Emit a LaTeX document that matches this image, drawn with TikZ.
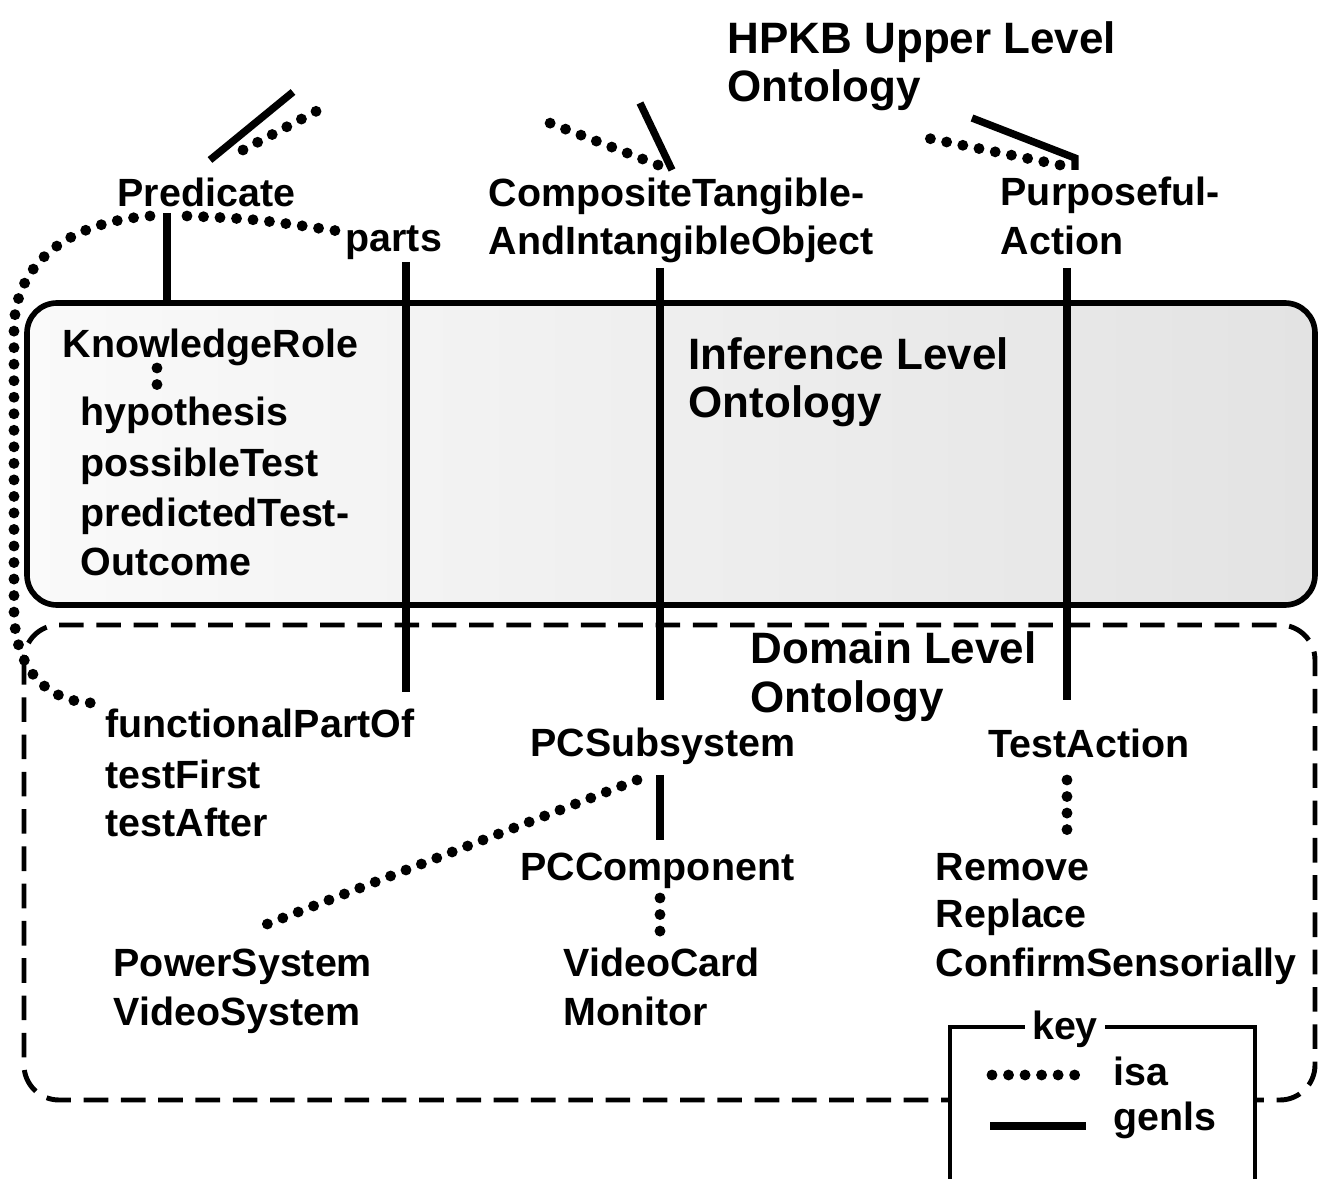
\documentclass[tikz,border=0pt]{standalone}
\usepackage{fontspec}
\setmainfont{Liberation Sans}
\begin{document}
\begin{tikzpicture}[x=0.01cm,y=-0.01cm,
  lbl/.style={font=\bfseries\fontsize{11.2}{14}\selectfont, inner sep=0pt, anchor=base west},
  ttl/.style={font=\bfseries\fontsize{12.5}{14}\selectfont, inner sep=0pt, anchor=base west},
  genls/.style={line width=2.1pt},
  isa/.style={line width=3.1pt, line cap=round, dash pattern=on 0pt off 4.7pt},
  infbox/.style={line width=1.6pt, rounded corners=0.3cm},
  dombox/.style={line width=1.4pt, dash pattern=on 7pt off 3.6pt, rounded corners=0.35cm},
  keybox/.style={line width=1.1pt, fill=white}
]
\useasboundingbox (0,0) rectangle (1320,1179);

% ---- boxes ----
\path[left color=black!2, right color=black!11, rounded corners=0.3cm] (27,303) rectangle (1315,605);
\draw[infbox] (27,303) rectangle (1315,605);
\draw[dombox] (24,625) rectangle (1315,1100);

% ---- upper level texts ----
\node[ttl] (hpkb1) at (727,54) {HPKB Upper Level};
\node[ttl] (hpkb2) at (727,102) {Ontology};
\node[lbl] (pred) at (117,207) {Predicate};
\node[lbl] (parts) at (345,252) {parts};
\node[lbl] (comp1) at (488,207) {CompositeTangible-};
\node[lbl] (comp2) at (488,255) {AndIntangibleObject};
\node[lbl] (purp1) at (1000,206) {Purposeful-};
\node[lbl] (purp2) at (1000,255) {Action};

% ---- inference level texts ----
\node[lbl] (krole) at (62,358) {KnowledgeRole};
\node[lbl] (hyp) at (80,426) {hypothesis};
\node[lbl] (ptest) at (80,477) {possibleTest};
\node[lbl] (pto1) at (80,527) {predictedTest-};
\node[lbl] (pto2) at (80,576) {Outcome};
\node[ttl] (inf1) at (688,370) {Inference Level};
\node[ttl] (inf2) at (688,418) {Ontology};

% ---- domain level texts ----
\node[ttl] (dom1) at (750,663) {Domain Level};
\node[ttl] (dom2) at (750,712) {Ontology};
\node[lbl] (fpo) at (105,738) {functionalPartOf};
\node[lbl] (tfirst) at (105,788) {testFirst};
\node[lbl] (tafter) at (105,837) {testAfter};
\node[lbl] (pcsub) at (530,757) {PCSubsystem};
\node[lbl] (tact) at (988,758) {TestAction};
\node[lbl] (pccomp) at (520,880) {PCComponent};
\node[lbl] (remove) at (935,880) {Remove};
\node[lbl] (replace) at (935,928) {Replace};
\node[lbl] (confirm) at (935,977) {ConfirmSensorially};
\node[lbl] (psys) at (113,977) {PowerSystem};
\node[lbl] (vsys) at (113,1025) {VideoSystem};
\node[lbl] (vcard) at (563,977) {VideoCard};
\node[lbl] (monitor) at (563,1025) {Monitor};

% ---- connector end points ----
\coordinate (predUpG) at (293,92);   \coordinate (predG) at (210,160);
\coordinate (predUpI) at (328,105);  \coordinate (predI) at (243,150);
\coordinate (compUpG) at (640,103);  \coordinate (compG) at (672,170);
\coordinate (compUpI) at (542,120);  \coordinate (compI) at (658,165);
\coordinate (purpUpG) at (972,118);  \coordinate (purpGa) at (1075,158); \coordinate (purpG) at (1075,170);
\coordinate (purpUpI) at (922,137);  \coordinate (purpI) at (1060,165);
\coordinate (predB) at (167,213);    \coordinate (kroleT) at (167,305);
\coordinate (predL) at (150,216);    \coordinate (fpoL) at (95,703);
\coordinate (predR) at (187,216);    \coordinate (partsL) at (338,231);
\coordinate (partsB) at (406,262);   \coordinate (fpoT) at (406,692);
\coordinate (comp2B) at (660,268);   \coordinate (pcsubT) at (660,700);
\coordinate (purp2B) at (1067,268);  \coordinate (tactT) at (1067,700);
\coordinate (kroleB) at (157,368);   \coordinate (hypT) at (157,390);
\coordinate (pcsubB) at (660,775);   \coordinate (pccompT) at (660,840);
\coordinate (pcsubBL) at (637,780);  \coordinate (psysT) at (252,930);
\coordinate (pccompB) at (660,898);  \coordinate (vcardT) at (660,935);
\coordinate (tactB) at (1067,780);   \coordinate (removeT) at (1067,835);

% ---- connectors: upward ----
\draw[genls] (predG) -- (predUpG);
\draw[isa] (predI) -- (predUpI);
\draw[genls] (compG) -- (compUpG);
\draw[isa] (compI) -- (compUpI);
\draw[genls] (purpG) -- (purpGa) -- (purpUpG);
\draw[isa] (purpI) -- (purpUpI);

% ---- connectors: through the levels ----
\draw[genls] (predB) -- (kroleT);
\draw[isa] (predL) .. controls (70,222) and (14,262) .. (14,330) -- (14,610) .. controls (14,672) and (50,703) .. (fpoL);
\draw[isa] (predR) .. controls (255,219) .. (partsL);
\draw[genls] (partsB) -- (fpoT);
\draw[genls] (comp2B) -- (pcsubT);
\draw[genls] (purp2B) -- (tactT);
\draw[isa] (kroleB) -- (hypT);
\draw[genls] (pcsubB) -- (pccompT);
\draw[isa] (pcsubBL) -- (psysT);
\draw[isa] (pccompB) -- (vcardT);
\draw[isa] (tactB) -- (removeT);

% ---- key ----
\draw[keybox] (950,1190) -- (950,1027) -- (1255,1027) -- (1255,1190);
\node[lbl, anchor=base, fill=white, inner xsep=2pt, inner ysep=1pt] (key) at (1065,1040) {key};
\node[lbl] (isalbl) at (1113,1085) {isa};
\node[lbl] (genlslbl) at (1113,1130) {genls};
\coordinate (isaA) at (992,1075);  \coordinate (isaB) at (1084,1075);
\coordinate (genA) at (990,1126);  \coordinate (genB) at (1086,1126);
\draw[isa] (isaA) -- (isaB);
\draw[genls] (genA) -- (genB);
\end{tikzpicture}
\end{document}
